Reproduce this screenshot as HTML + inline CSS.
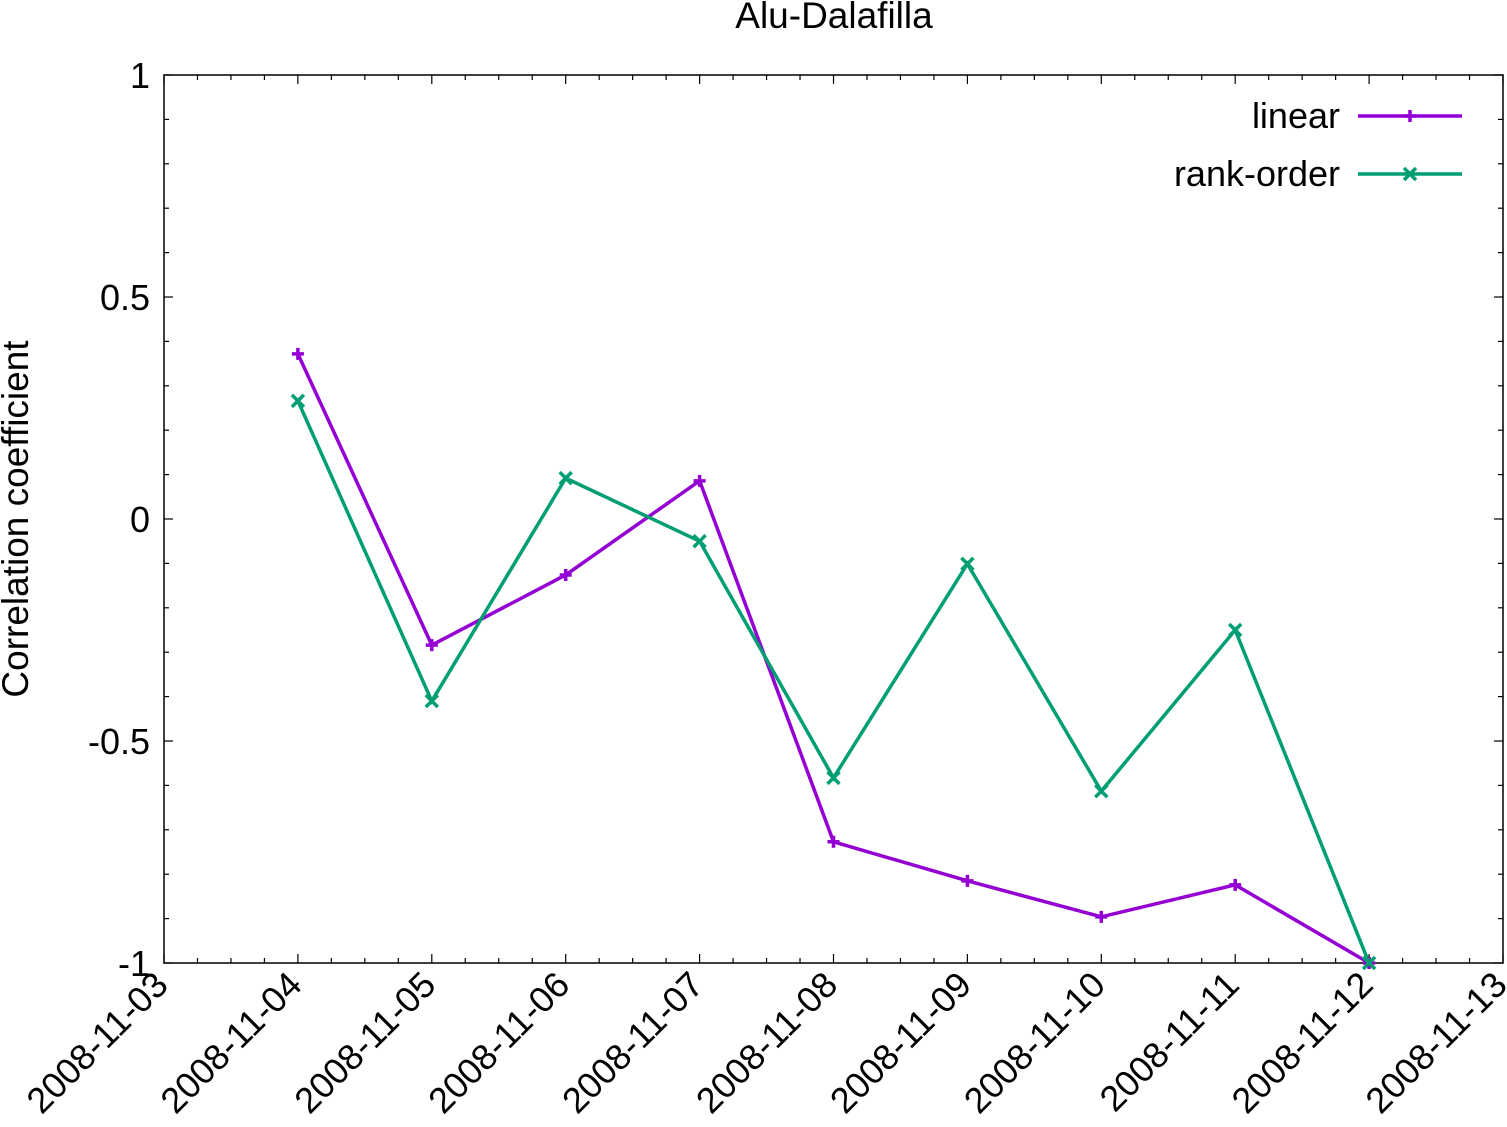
<!DOCTYPE html>
<html><head><meta charset="utf-8"><style>
html,body{margin:0;padding:0;background:#fff;}
svg{display:block;font-family:"Liberation Sans",Arial,sans-serif;}
</style></head><body>
<svg id="chart" width="1507" height="1127" viewBox="0 0 1507 1127" xmlns="http://www.w3.org/2000/svg">
<text x="834" y="28" font-size="37" text-anchor="middle">Alu-Dalafilla</text>
<text transform="translate(28,519) rotate(-90)" font-size="37" text-anchor="middle">Correlation coefficient</text>
<g id="axes"></g>
<g id="series"></g>
<g id="legend"></g>
</svg>
<script>
const categories = ["2008-11-04","2008-11-05","2008-11-06","2008-11-07","2008-11-08","2008-11-09","2008-11-10","2008-11-11","2008-11-12"];
const linearValues = [0.372,-0.284,-0.126,0.086,-0.727,-0.815,-0.896,-0.824,-1.0];
const rankValues = [0.266,-0.41,0.092,-0.05,-0.583,-0.101,-0.613,-0.25,-1.0];
const xTickLabels = ["2008-11-03","2008-11-04","2008-11-05","2008-11-06","2008-11-07","2008-11-08","2008-11-09","2008-11-10","2008-11-11","2008-11-12","2008-11-13"];
const yTickLabels = ["-1","-0.5","0","0.5","1"];
const yTickValues = [-1,-0.5,0,0.5,1];

const NS="http://www.w3.org/2000/svg";
const L=164,R=1503,T=75,B=963;
const xDay=d=>L+(R-L)*d/10;
const xCat=s=>{const i=xTickLabels.indexOf(s);return xDay(i);};
const y=v=>T+(B-T)*(1-v)/2;
function mk(tag,attrs,parent){const e=document.createElementNS(NS,tag);for(const k in attrs)e.setAttribute(k,attrs[k]);parent.appendChild(e);return e;}
const axes=document.getElementById('axes');
const frame=mk('rect',{x:L,y:T,width:R-L,height:B-T,fill:'none',stroke:'#000','stroke-width':1.5},axes);


for(let k=-10;k<=10;k++){
  const v=k/10, yy=y(v), major=(k%5===0), len=major?9:5;
  const t1=mk('line',{x1:L,x2:L+len,y1:yy,y2:yy,stroke:'#000','stroke-width':1.2},axes);
  
  
  const t2=mk('line',{x1:R,x2:R-len,y1:yy,y2:yy,stroke:'#000','stroke-width':1.2},axes);
  
  
}
yTickValues.forEach((v,i)=>{
  const t=mk('text',{x:L-14,y:y(v)+13,'font-size':36,'text-anchor':'end'},axes);
  t.textContent=yTickLabels[i];
  
  
});
for(let q=0;q<=40;q++){
  const xx=xDay(q/4), major=(q%4===0), len=major?9:5;
  const t1=mk('line',{x1:xx,x2:xx,y1:B,y2:B-len,stroke:'#000','stroke-width':1.2},axes);
  
  
  const t2=mk('line',{x1:xx,x2:xx,y1:T,y2:T+len,stroke:'#000','stroke-width':1.2},axes);
  
  
}
xTickLabels.forEach((s,i)=>{
  const xx=xDay(i);
  const t=mk('text',{transform:`translate(${xx+6},${B+24}) rotate(-45)`,'font-size':36,'text-anchor':'end'},axes);
  t.textContent=s;
  
  
});
const series=document.getElementById('series');
function drawSeries(vals,color,name,marker){
  const pts=vals.map((v,i)=>[xCat(categories[i]),y(v)]);
  const pl=mk('polyline',{points:pts.map(p=>p.join(',')).join(' '),fill:'none',stroke:color,'stroke-width':3.5,'stroke-linejoin':'miter'},series);
  
  
  pts.forEach(p=>drawMarker(p[0],p[1],color,marker,name+'-point'));
}
function drawMarker(x0,y0,color,marker,name){
  const s=6,d=marker==='plus'?`M${x0-s},${y0}H${x0+s}M${x0},${y0-s}V${y0+s}`:`M${x0-s},${y0-s}L${x0+s},${y0+s}M${x0-s},${y0+s}L${x0+s},${y0-s}`;
  const m=mk('path',{d:d,stroke:color,'stroke-width':3.5,fill:'none'},series);
  
  
}
drawSeries(linearValues,'#9400d3','linear','plus');
drawSeries(rankValues,'#009e73','rank-order','cross');
const legend=document.getElementById('legend');
[["linear",'#9400d3','plus',116],["rank-order",'#009e73','cross',174]].forEach(e=>{
  const t=mk('text',{x:1340,y:e[3]+12,'font-size':36,'text-anchor':'end'},legend);
  t.textContent=e[0];
  
  
  const l=mk('line',{x1:1358,x2:1462,y1:e[3],y2:e[3],stroke:e[1],'stroke-width':3.5},legend);
  
  
  drawMarker(1410,e[3],e[1],e[2],'legend-marker');
});
</script>
</body></html>
